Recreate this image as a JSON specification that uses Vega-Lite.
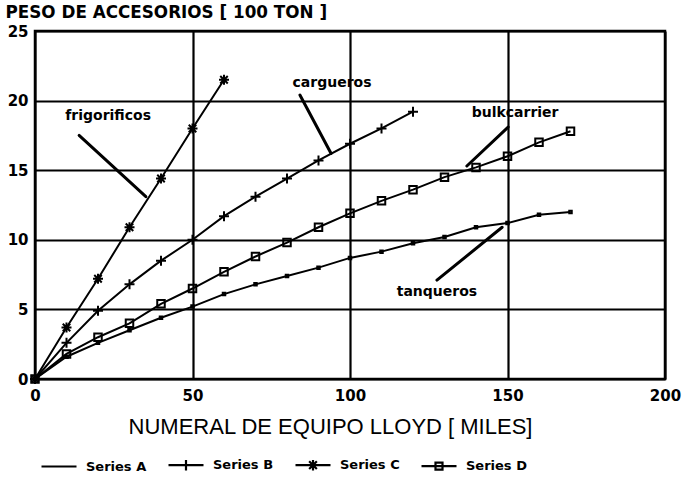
{
  "$schema": "https://vega.github.io/schema/vega-lite/v6.json",
  "width": 630,
  "height": 348,
  "autosize": {"type": "none"},
  "padding": {"left": 35, "top": 31, "right": 21, "bottom": 103},
  "background": "white",
  "config": {
    "view": {"stroke": "black", "strokeWidth": 2.5},
    "font": "DejaVu Sans"
  },
  "datasets": {
    "series": [
      {"series": "Series A", "x": 0, "y": 0},
      {"series": "Series A", "x": 10, "y": 1.6},
      {"series": "Series A", "x": 20, "y": 2.6},
      {"series": "Series A", "x": 30, "y": 3.5},
      {"series": "Series A", "x": 40, "y": 4.4},
      {"series": "Series A", "x": 50, "y": 5.2},
      {"series": "Series A", "x": 60, "y": 6.1},
      {"series": "Series A", "x": 70, "y": 6.8},
      {"series": "Series A", "x": 80, "y": 7.4},
      {"series": "Series A", "x": 90, "y": 8.0},
      {"series": "Series A", "x": 100, "y": 8.7},
      {"series": "Series A", "x": 110, "y": 9.15},
      {"series": "Series A", "x": 120, "y": 9.75},
      {"series": "Series A", "x": 130, "y": 10.2},
      {"series": "Series A", "x": 140, "y": 10.9},
      {"series": "Series A", "x": 150, "y": 11.2},
      {"series": "Series A", "x": 160, "y": 11.8},
      {"series": "Series A", "x": 170, "y": 12.0},
      {"series": "Series B", "x": 0, "y": 0},
      {"series": "Series B", "x": 10, "y": 2.6},
      {"series": "Series B", "x": 20, "y": 4.9},
      {"series": "Series B", "x": 30, "y": 6.8},
      {"series": "Series B", "x": 40, "y": 8.5},
      {"series": "Series B", "x": 50, "y": 10.0},
      {"series": "Series B", "x": 60, "y": 11.7},
      {"series": "Series B", "x": 70, "y": 13.1},
      {"series": "Series B", "x": 80, "y": 14.4},
      {"series": "Series B", "x": 90, "y": 15.7},
      {"series": "Series B", "x": 100, "y": 16.9},
      {"series": "Series B", "x": 110, "y": 18.0},
      {"series": "Series B", "x": 120, "y": 19.2},
      {"series": "Series C", "x": 0, "y": 0},
      {"series": "Series C", "x": 10, "y": 3.7},
      {"series": "Series C", "x": 20, "y": 7.2},
      {"series": "Series C", "x": 30, "y": 10.9},
      {"series": "Series C", "x": 40, "y": 14.4},
      {"series": "Series C", "x": 50, "y": 18.0},
      {"series": "Series C", "x": 60, "y": 21.5},
      {"series": "Series D", "x": 0, "y": 0},
      {"series": "Series D", "x": 10, "y": 1.8},
      {"series": "Series D", "x": 20, "y": 3.0},
      {"series": "Series D", "x": 30, "y": 4.0},
      {"series": "Series D", "x": 40, "y": 5.4},
      {"series": "Series D", "x": 50, "y": 6.5},
      {"series": "Series D", "x": 60, "y": 7.7},
      {"series": "Series D", "x": 70, "y": 8.8},
      {"series": "Series D", "x": 80, "y": 9.8},
      {"series": "Series D", "x": 90, "y": 10.9},
      {"series": "Series D", "x": 100, "y": 11.9},
      {"series": "Series D", "x": 110, "y": 12.8},
      {"series": "Series D", "x": 120, "y": 13.6},
      {"series": "Series D", "x": 130, "y": 14.5},
      {"series": "Series D", "x": 140, "y": 15.2},
      {"series": "Series D", "x": 150, "y": 16.0},
      {"series": "Series D", "x": 160, "y": 17.0},
      {"series": "Series D", "x": 170, "y": 17.8}
    ],
    "arrows": [
      {"x": 14.0, "y": 17.5, "x2": 35.2, "y2": 13.1},
      {"x": 84.1, "y": 20.4, "x2": 94.0, "y2": 16.2},
      {"x": 150.2, "y": 18.1, "x2": 137.1, "y2": 15.3},
      {"x": 127.6, "y": 7.1, "x2": 148.3, "y2": 10.9}
    ],
    "labels": [
      {"x": 23.2, "y": 18.9, "text": "frigorificos"},
      {"x": 94.3, "y": 21.3, "text": "cargueros"},
      {"x": 152.4, "y": 19.1, "text": "bulkcarrier"},
      {"x": 127.6, "y": 6.25, "text": "tanqueros"}
    ]
  },
  "layer": [
    {
      "data": {"name": "series"},
      "mark": {"type": "line", "strokeWidth": 2},
      "encoding": {
        "x": {
          "field": "x", "type": "quantitative",
          "scale": {"domain": [0, 200], "nice": false},
          "axis": {
            "values": [0, 50, 100, 150, 200],
            "grid": true, "gridColor": "black", "gridWidth": 2.2, "gridOpacity": 1,
            "ticks": false, "domain": false,
            "labelFont": "DejaVu Sans", "labelFontWeight": "bold", "labelFontSize": 15,
            "labelColor": "black", "labelPadding": 9, "labelFlush": false,
            "title": "NUMERAL DE EQUIPO LLOYD [ MILES]",
            "titleFont": "Liberation Sans", "titleFontSize": 22, "titleFontWeight": "normal",
            "titleColor": "black", "titleX": 295, "titleY": 47, "titleAlign": "center",
            "titleBaseline": "middle"
          }
        },
        "y": {
          "field": "y", "type": "quantitative",
          "scale": {"domain": [0, 25], "nice": false},
          "axis": {
            "values": [0, 5, 10, 15, 20, 25],
            "grid": true, "gridColor": "black", "gridWidth": 2.2, "gridOpacity": 1,
            "ticks": false, "domain": false,
            "labelFont": "DejaVu Sans", "labelFontWeight": "bold", "labelFontSize": 15,
            "labelColor": "black", "labelPadding": 7, "labelFlush": false,
            "title": "PESO DE ACCESORIOS [ 100 TON ]",
            "titleFont": "DejaVu Sans", "titleFontSize": 16.8, "titleFontWeight": "bold",
            "titleColor": "black", "titleAngle": 0, "titleAlign": "left",
            "titleBaseline": "middle", "titleX": -30, "titleY": -19
          }
        },
        "color": {
          "field": "series", "type": "nominal",
          "scale": {
            "domain": ["Series A", "Series B", "Series C", "Series D"],
            "range": ["black", "black", "black", "black"]
          },
          "legend": {
            "title": null,
            "orient": "none",
            "legendX": 5,
            "legendY": 415,
            "direction": "horizontal",
            "padding": 0,
            "symbolSize": 1225,
            "symbolStrokeWidth": 2,
            "labelFont": "DejaVu Sans",
            "labelFontWeight": "bold",
            "labelFontSize": 13,
            "labelColor": "black",
            "labelOffset": 8,
            "columnPadding": 17,
            "encode": {
              "symbols": {
                "update": {
                  "shape": {"signal": "datum.value == 'Series A' ? 'M-1,0H1' : datum.value == 'Series B' ? 'M-1,0H1M0,-0.3V0.3' : datum.value == 'Series C' ? 'M-1,0H1M0,-0.3V0.3M-0.22,-0.22L0.22,0.22M-0.22,0.22L0.22,-0.22' : 'M-1,0H1M-0.2,-0.2H0.2V0.2H-0.2Z'"},
                  "stroke": {"value": "black"},
                  "strokeWidth": {"value": 2.2}
                }
              }
            }
          }
        }
      }
    },
    {
      "data": {"name": "series"},
      "mark": {"type": "point", "filled": false, "stroke": "black", "strokeWidth": 2, "size": 100, "opacity": 1},
      "encoding": {
        "x": {"field": "x", "type": "quantitative"},
        "y": {"field": "y", "type": "quantitative"},
        "shape": {
          "field": "series", "type": "nominal",
          "scale": {
            "domain": ["Series D", "Series C", "Series B", "Series A"],
            "range": [
              "M-0.75,-0.75H0.75V0.75H-0.75Z",
              "M-1,0H1M0,-1V1M-0.75,-0.75L0.75,0.75M-0.75,0.75L0.75,-0.75",
              "M-1,0H1M0,-1V1",
              "M-0.25,-0.25H0.25V0.25H-0.25Z"
            ]
          },
          "legend": null
        }
      }
    },
    {
      "data": {"name": "arrows"},
      "mark": {"type": "rule", "color": "black", "strokeWidth": 3, "strokeCap": "round"},
      "encoding": {
        "x": {"field": "x", "type": "quantitative"},
        "y": {"field": "y", "type": "quantitative"},
        "x2": {"field": "x2"},
        "y2": {"field": "y2"}
      }
    },
    {
      "data": {"name": "labels"},
      "mark": {"type": "text", "font": "DejaVu Sans", "fontWeight": "bold", "fontSize": 14, "letterSpacing": 1.5, "color": "black", "align": "center", "baseline": "middle"},
      "encoding": {
        "x": {"field": "x", "type": "quantitative"},
        "y": {"field": "y", "type": "quantitative"},
        "text": {"field": "text"}
      }
    }
  ]
}
